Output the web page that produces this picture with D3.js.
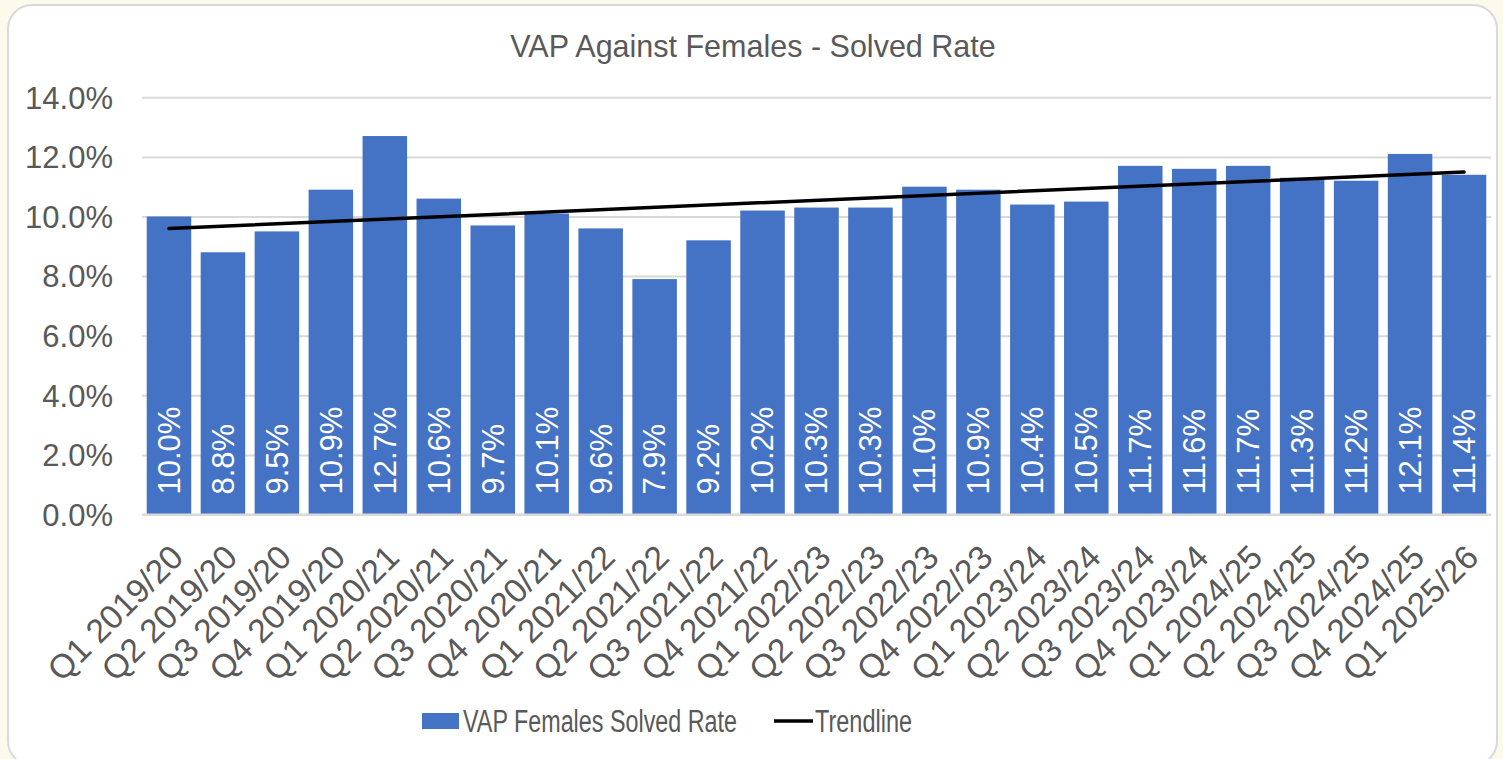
<!DOCTYPE html>
<html>
<head>
<meta charset="utf-8">
<script src="https://cdn.jsdelivr.net/npm/d3@7/dist/d3.min.js"></script>
<style>
  html, body { margin: 0; padding: 0; background: #fcfaec; }
  svg { display: block; }
  text { font-family: "Liberation Sans", Arial, sans-serif; }
</style>
</head>
<body>
<svg id="chart" width="1503" height="759"></svg>
<script>
const categories = ["Q1 2019/20","Q2 2019/20","Q3 2019/20","Q4 2019/20","Q1 2020/21","Q2 2020/21","Q3 2020/21","Q4 2020/21","Q1 2021/22","Q2 2021/22","Q3 2021/22","Q4 2021/22","Q1 2022/23","Q2 2022/23","Q3 2022/23","Q4 2022/23","Q1 2023/24","Q2 2023/24","Q3 2023/24","Q4 2023/24","Q1 2024/25","Q2 2024/25","Q3 2024/25","Q4 2024/25","Q1 2025/26"];
const solvedRate = [10.0, 8.8, 9.5, 10.9, 12.7, 10.6, 9.7, 10.1, 9.6, 7.9, 9.2, 10.2, 10.3, 10.3, 11.0, 10.9, 10.4, 10.5, 11.7, 11.6, 11.7, 11.3, 11.2, 12.1, 11.4];
const yTicks = [0, 2, 4, 6, 8, 10, 12, 14];
const title = "VAP Against Females - Solved Rate";
const seriesName = "VAP Females Solved Rate";
const trendName = "Trendline";

const svg = d3.select("#chart");

// card
svg.append("rect").attr("x", 8).attr("y", 5).attr("width", 1489).attr("height", 760)
  .attr("rx", 24).attr("fill", "#ffffff").attr("stroke", "#d9d9d9").attr("stroke-width", 2);

const x = d3.scaleBand().domain(categories).range([142, 1491]).paddingInner(0.175).paddingOuter(0.0875);
const y = d3.scaleLinear().domain([0, 14]).range([514.5, 97.3]);

// gridlines + y ticks
const yAxis = d3.axisLeft(y).tickValues(yTicks).tickSize(-(1491 - 142)).tickFormat(d => d3.format(".1f")(d) + "%");
const gy = svg.append("g").attr("transform", "translate(142,0)").call(yAxis);
gy.select(".domain").remove();
gy.selectAll(".tick line").attr("stroke", "#d9d9d9").attr("stroke-width", 2);
gy.selectAll(".tick text").attr("x", -29).attr("fill", "#595959").attr("font-size", 31).attr("dy", "0.35em");

// bars
svg.append("g").selectAll("rect").data(solvedRate).join("rect")
  .attr("x", (d, i) => x(categories[i]))
  .attr("y", d => y(d))
  .attr("width", x.bandwidth())
  .attr("height", d => y(0) - y(d))
  .attr("fill", "#4472c4");

// baseline
svg.append("line").attr("x1", 142).attr("x2", 1491).attr("y1", y(0)).attr("y2", y(0))
  .attr("stroke", "#d9d9d9").attr("stroke-width", 2);

// bar labels
svg.append("g").selectAll("text").data(solvedRate).join("text")
  .attr("transform", (d, i) => `translate(${x(categories[i]) + x.bandwidth() / 2},${y(0) - 20}) rotate(-90)`)
  .attr("dy", "0.35em")
  .attr("text-anchor", "start")
  .attr("fill", "#ffffff")
  .attr("font-size", 31)
  .text(d => d3.format(".1f")(d) + "%");

// trendline (least squares fit of the bars)
const n = solvedRate.length;
const xm = d3.mean(solvedRate, (d, i) => i);
const ym = d3.mean(solvedRate);
const slope = d3.sum(solvedRate, (d, i) => (i - xm) * (d - ym)) / d3.sum(solvedRate, (d, i) => (i - xm) * (i - xm));
const icpt = ym - slope * xm;
const trend = [0, n - 1].map(i => [x(categories[i]) + x.bandwidth() / 2, y(icpt + slope * i)]);
svg.append("path").attr("d", d3.line()(trend)).attr("stroke", "#000").attr("stroke-width", 3.5).attr("fill", "none").attr("stroke-linecap", "round");

// x labels
svg.append("g").selectAll("text").data(categories).join("text")
  .attr("transform", d => `translate(${x(d) + x.bandwidth() / 2 + 8},551) rotate(-45)`)
  .attr("dy", "0.35em")
  .attr("text-anchor", "end")
  .attr("fill", "#595959")
  .attr("font-size", 33.5)
  .text(d => d);

// title
svg.append("text").attr("x", 753).attr("y", 57).attr("text-anchor", "middle")
  .attr("fill", "#595959").attr("font-size", 30.5).text(title);

// legend
svg.append("rect").attr("x", 422).attr("y", 713).attr("width", 37).attr("height", 16).attr("fill", "#4472c4");
svg.append("text").attr("x", 463).attr("y", 732).attr("fill", "#595959").attr("font-size", 31)
  .attr("textLength", 274).attr("lengthAdjust", "spacingAndGlyphs").text(seriesName);
svg.append("line").attr("x1", 774).attr("x2", 813).attr("y1", 721).attr("y2", 721).attr("stroke", "#000").attr("stroke-width", 3.5);
svg.append("text").attr("x", 815).attr("y", 732).attr("fill", "#595959").attr("font-size", 31)
  .attr("textLength", 97).attr("lengthAdjust", "spacingAndGlyphs").text(trendName);
</script>
</body>
</html>
